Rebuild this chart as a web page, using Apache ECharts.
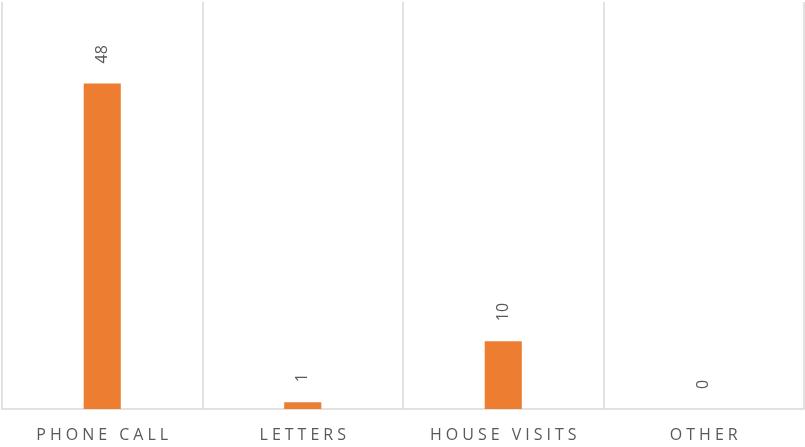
<!DOCTYPE html>
<html>
<head>
<meta charset="utf-8">
<script src="https://cdn.jsdelivr.net/npm/echarts@6/dist/echarts.min.js"></script>
<style>
  html, body { margin: 0; padding: 0; background: #fff; }
  #main { width: 805px; height: 447px; }
</style>
</head>
<body>
<div id="main"></div>
<script>
const categories = ['PHONE CALL', 'LETTERS', 'HOUSE VISITS', 'OTHER'];
const counts = [48, 1, 10, 0];

// spread letters out a little, like the original's tracking
const spaced = s => s.split('').join('\u2005');

const chart = echarts.init(document.getElementById('main'));
chart.setOption({
    animation: false,
    grid: { left: 2, right: 1, top: 2, bottom: 38 },
    xAxis: {
        type: 'category',
        data: categories,
        axisLine: { lineStyle: { color: '#d9d9d9', width: 1.5 } },
        axisTick: { show: false },
        splitLine: { show: true, lineStyle: { color: '#d9d9d9', width: 1.5 } },
        axisLabel: {
            color: '#595959',
            fontFamily: 'Open Sans',
            fontSize: 16,
            margin: 18,
            formatter: v => spaced(v)
        }
    },
    yAxis: {
        type: 'value',
        min: 0,
        max: 60,
        show: false,
        splitLine: { show: false }
    },
    series: [{
        type: 'bar',
        data: counts,
        barWidth: '18.5%',
        itemStyle: { color: '#ed7d31' },
        label: {
            show: true,
            position: 'top',
            rotate: 90,
            align: 'left',
            verticalAlign: 'middle',
            distance: 20,
            color: '#595959',
            fontFamily: 'Open Sans',
            fontSize: 16
        }
    }]
});
</script>
</body>
</html>
